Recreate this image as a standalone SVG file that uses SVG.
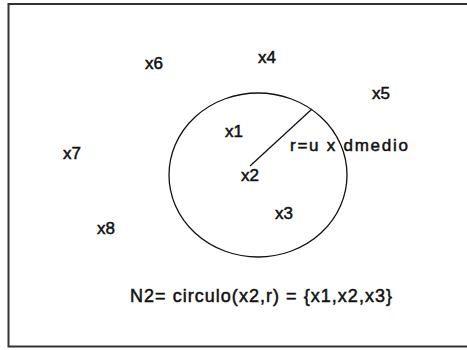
<svg xmlns="http://www.w3.org/2000/svg" width="467" height="350" viewBox="0 0 467 350">
<style>
.t{font-family:"Liberation Sans",Arial,sans-serif;font-size:17px;fill:#111;stroke:#111;stroke-width:0.5}
.f{font-size:18px}
.ln{fill:none;stroke:#111;stroke-width:1.3}
</style>
<rect x="0" y="0" width="467" height="350" fill="#fff"/>
<rect x="8.5" y="4" width="470" height="342.5" fill="none" stroke="#333" stroke-width="2"/>
<g id="circle"><ellipse class="ln" cx="258" cy="175" rx="89" ry="82"/></g>
<g id="connectors"><line class="ln" x1="250" y1="166" x2="312" y2="109"/></g>
<g id="x6"><text class="t" x="145" y="69">x6</text></g>
<g id="x4"><text class="t" x="258" y="63">x4</text></g>
<g id="x5"><text class="t" x="372" y="99">x5</text></g>
<g id="x1"><text class="t" x="225" y="137">x1</text></g>
<g id="x7"><text class="t" x="63" y="159">x7</text></g>
<g id="x2"><text class="t" x="241" y="181">x2</text></g>
<g id="x3"><text class="t" x="275" y="219">x3</text></g>
<g id="x8"><text class="t" x="97" y="234">x8</text></g>
<g id="rlabel"><text class="t" x="290" y="151" textLength="118">r=u x dmedio</text></g>
<g id="formula"><text class="t f" x="130" y="302" textLength="262">N2= circulo(x2,r) = {x1,x2,x3}</text></g>
</svg>
